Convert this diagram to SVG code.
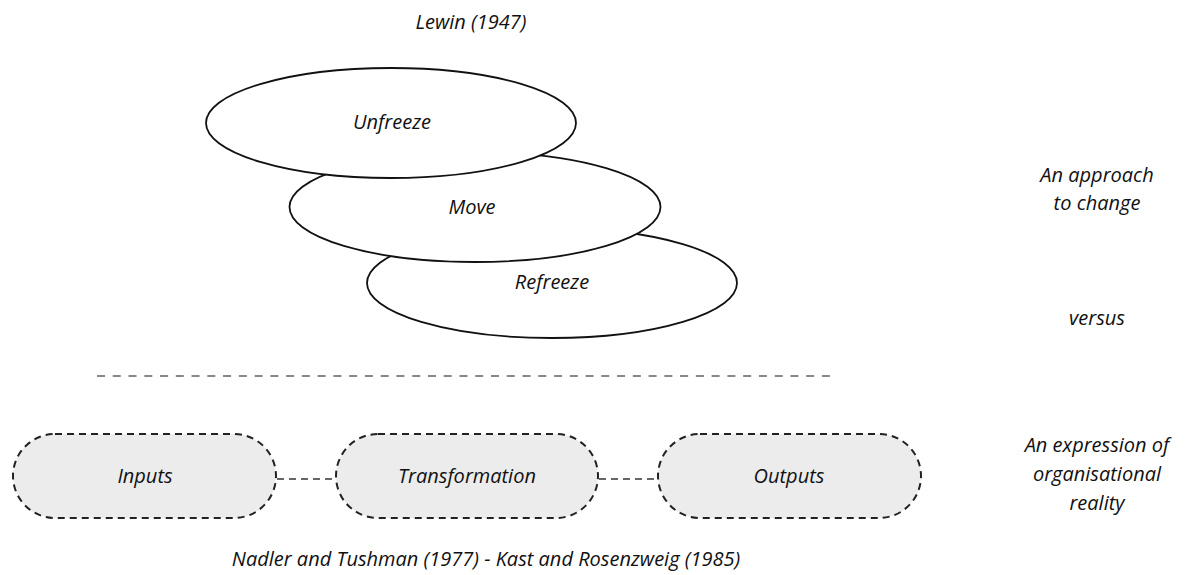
<svg xmlns="http://www.w3.org/2000/svg" width="1187" height="575" viewBox="0 0 1187 575">
  <style>
    text { font-family: "Open Sans", "Liberation Sans", sans-serif; font-style: italic; font-size: 20px; fill: #111; text-anchor: middle; }
    .stage { fill: #fff; stroke: #111; stroke-width: 1.8; }
    .pill { fill: #ececec; stroke: #222; stroke-width: 2; stroke-dasharray: 7 5; }
    .link { stroke: #666; stroke-width: 2; stroke-dasharray: 7 5; fill: none; }
    .divider { stroke: #888; stroke-width: 2; stroke-dasharray: 8 7.76; }
  </style>
  <rect width="1187" height="575" fill="#fff"/>

  <text x="471" y="29">Lewin (1947)</text>

  <!-- Lewin's three stages, drawn back to front -->
  <g id="refreeze">
    <ellipse class="stage" cx="552" cy="283" rx="185" ry="55"/>
    <text x="552" y="289">Refreeze</text>
  </g>
  <g id="move">
    <ellipse class="stage" cx="475" cy="207" rx="185.5" ry="55"/>
    <text x="472" y="214">Move</text>
  </g>
  <g id="unfreeze">
    <ellipse class="stage" cx="391" cy="123" rx="185" ry="55"/>
    <text x="392" y="129">Unfreeze</text>
  </g>

  <line class="divider" x1="97" y1="376" x2="830" y2="376"/>

  <g id="connectors">
    <line class="link" x1="277" y1="479" x2="336" y2="479"/>
    <line class="link" x1="599" y1="479" x2="658" y2="479"/>
  </g>

  <g id="inputs">
    <rect class="pill" x="13" y="434" width="263" height="84" rx="42" ry="42"/>
    <text x="145" y="483">Inputs</text>
  </g>
  <g id="transformation">
    <rect class="pill" x="336" y="434" width="262" height="84" rx="42" ry="42"/>
    <text x="467" y="483">Transformation</text>
  </g>
  <g id="outputs">
    <rect class="pill" x="658" y="434" width="263" height="84" rx="42" ry="42"/>
    <text x="789" y="483">Outputs</text>
  </g>

  <text x="486" y="566">Nadler and Tushman (1977) - Kast and Rosenzweig (1985)</text>

  <!-- side captions -->
  <text x="1097" y="182">An approach</text>
  <text x="1097" y="210">to change</text>
  <text x="1097" y="325">versus</text>
  <text x="1097" y="452">An expression of</text>
  <text x="1097" y="481">organisational</text>
  <text x="1097" y="510">reality</text>
</svg>
